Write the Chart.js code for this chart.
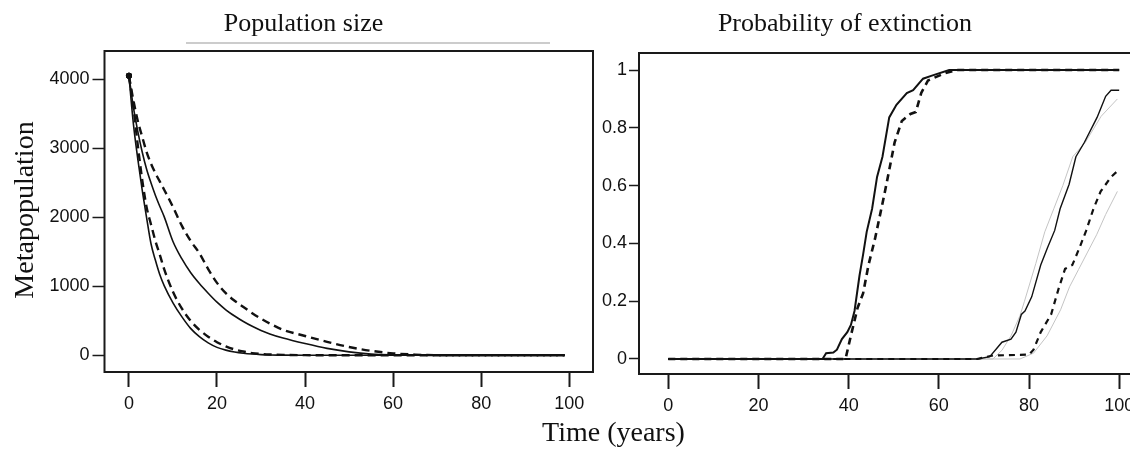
<!DOCTYPE html>
<html><head><meta charset="utf-8">
<script src="https://cdn.jsdelivr.net/npm/chart.js@4.4.1/dist/chart.umd.min.js"></script>
<style>
html,body{margin:0;padding:0;background:#fff;}
#wrap{position:relative;width:1130px;height:449px;overflow:hidden;background:#fff;}
canvas{position:absolute;left:0;top:0;}
</style></head><body>
<div id="wrap"><canvas id="c1" width="1130" height="449"></canvas><canvas id="c2" width="1130" height="449"></canvas></div>
<script>
// ---------- Left panel: population size ----------
const leftTime   = [0,1,2,3,4,5,6,7,8,10,12,14,16,18,20,22,24,26,28,30,32,35,40,45,50,55,60,65,70,80,90,99];
const fastSolid  = [4050,3360,2850,2400,2000,1620,1380,1170,1010,760,560,390,270,180,115,75,48,30,18,10,5,2,0,0,0,0,0,0,0,0,0,0];
const fastDashed = [4050,3600,3050,2550,2150,1900,1660,1460,1250,920,680,500,370,270,190,130,85,55,32,20,12,6,2,0,0,0,0,0,0,0,0,0];
const slowSolid  = [4050,3600,3250,2950,2700,2500,2320,2160,2010,1650,1400,1200,1040,900,770,660,570,490,420,360,310,250,170,100,50,18,6,2,0,0,0,0];
const slowDashed = [4050,3700,3400,3170,2950,2780,2640,2520,2400,2150,1880,1660,1480,1250,1050,900,790,700,610,530,460,370,280,195,120,65,28,10,2,0,0,0];
const leftXTicks = [0,20,40,60,80,100];
const leftYTicks = [0,1000,2000,3000,4000];

// ---------- Right panel: probability of extinction ----------
const earlySolidT  = [0,34.2,35.0,36.6,37.4,38.5,39.7,40.5,41.3,42.4,43.2,44.0,45.2,46.3,47.5,49.0,50.6,52.9,54.3,56.5,58.3,62.3,100];
const earlySolidP  = [0,0,0.02,0.022,0.032,0.069,0.093,0.118,0.166,0.288,0.361,0.44,0.52,0.63,0.70,0.836,0.88,0.92,0.93,0.97,0.98,1.0,1.0];
const earlyDashedT = [0,39.3,40.5,42.0,43.2,44.4,45.9,47.9,49.0,50.2,51.8,53.7,54.9,56.1,57.6,61.5,64.2,100];
const earlyDashedP = [0,0,0.081,0.178,0.227,0.325,0.42,0.568,0.654,0.75,0.824,0.848,0.855,0.921,0.964,0.99,1.0,1.0];
const lateSolidT   = [0,68.6,71.3,74.0,76.0,77.1,78.3,79.1,80.6,82.6,84.1,85.7,86.9,88.9,90.4,92.3,95.1,97.0,98.2,100];
const lateSolidP   = [0,0,0.008,0.058,0.069,0.093,0.154,0.166,0.215,0.325,0.385,0.445,0.52,0.605,0.70,0.75,0.836,0.909,0.93,0.93];
const lateDashedT  = [0,68.5,72,80,81.0,82.6,84.9,86.5,88.0,89.6,91.2,92.7,94.3,95.9,98.2,99.6];
const lateDashedP  = [0,0,0.012,0.015,0.032,0.093,0.154,0.24,0.312,0.325,0.385,0.445,0.52,0.58,0.63,0.65];
const gray1T = [0,72,74,76,78,79,81.5,83.5,85.5,87.5,89.7,92.5,96,99.6];
const gray1P = [0,0,0.03,0.08,0.15,0.2,0.33,0.44,0.52,0.6,0.7,0.75,0.84,0.9];
const gray2T = [0,78,81,84,87,89,91,93,95,97,99.6];
const gray2P = [0,0,0.02,0.08,0.17,0.25,0.31,0.37,0.43,0.5,0.58];
const rightXTicks = [0,20,40,60,80,100];
const rightYTicks = [0,0.2,0.4,0.6,0.8,1];
const rightYLabels = ['0','0.2','0.4','0.6','0.8','1'];

const pts = (xs, ys) => xs.map((x, i) => ({x, y: ys[i]}));

const textPlugin = {
  id: 'texts',
  afterDraw(chart, args, opts) {
    const ctx = chart.ctx;
    const a = chart.chartArea;
    ctx.save();
    ctx.strokeStyle = '#1a1a1a';
    ctx.lineWidth = 2;
    ctx.beginPath();
    const sides = opts.sides || 'tlbr';
    if (sides.includes('t')) { ctx.moveTo(a.left - 1, a.top); ctx.lineTo(a.right + 1, a.top); }
    if (sides.includes('r')) { ctx.moveTo(a.right, a.top); ctx.lineTo(a.right, a.bottom); }
    if (sides.includes('b')) { ctx.moveTo(a.left - 1, a.bottom); ctx.lineTo(a.right + 1, a.bottom); }
    if (sides.includes('l')) { ctx.moveTo(a.left, a.top); ctx.lineTo(a.left, a.bottom); }
    ctx.stroke();
    ctx.restore();
    (opts.lines || []).forEach(l => {
      ctx.save(); ctx.strokeStyle = l.color; ctx.lineWidth = 1;
      ctx.beginPath(); ctx.moveTo(l.x1, l.y); ctx.lineTo(l.x2, l.y); ctx.stroke(); ctx.restore();
    });
    (opts.items || []).forEach(it => {
      ctx.save();
      ctx.font = it.font; ctx.fillStyle = '#111';
      ctx.textAlign = 'center'; ctx.textBaseline = 'alphabetic';
      ctx.translate(it.x, it.y);
      if (it.rot) ctx.rotate(it.rot);
      ctx.fillText(it.text, 0, 0);
      ctx.restore();
    });
  }
};

function scales(o) {
  return {
    x: {
      type: 'linear', min: o.xmin, max: o.xmax,
      afterBuildTicks: s => { s.ticks = o.xTicks.map(v => ({value: v})); },
      afterFit: s => { s.height = o.xh; s.paddingLeft = 0; s.paddingRight = 0; },
      grid: { drawOnChartArea: false, drawTicks: true, tickLength: 15, tickWidth: 2, tickColor: '#1a1a1a' },
      border: { display: false },
      ticks: { color: '#111', font: { family: 'Liberation Sans', size: 18 }, padding: 6, maxRotation: 0, autoSkip: false,
               callback: (v, i) => String(o.xTicks[i]) }
    },
    y: {
      type: 'linear', min: o.ymin, max: o.ymax,
      afterBuildTicks: s => { s.ticks = o.yTicks.map(v => ({value: v})); },
      afterFit: s => { s.width = o.yw; s.paddingTop = 0; s.paddingBottom = 0; },
      grid: { drawOnChartArea: false, drawTicks: true, tickLength: o.ytl, tickWidth: 1.5, tickColor: '#1a1a1a' },
      border: { display: false },
      ticks: { color: '#111', font: { family: 'Liberation Sans', size: 18 }, padding: o.ypad, autoSkip: false,
               callback: (v, i) => o.yLabels[i] }
    }
  };
}

const common = { responsive: false, animation: false, devicePixelRatio: 1, events: [] };
const startDot = c => (c.dataIndex === 0 ? 3 : 0);

new Chart(document.getElementById('c1'), {
  type: 'line',
  data: {
    datasets: [
      { data: pts(leftTime, fastSolid),  borderColor: '#111', backgroundColor: '#111', borderWidth: 1.6, pointRadius: startDot, pointBorderWidth: 0, cubicInterpolationMode: 'monotone' },
      { data: pts(leftTime, fastDashed), borderColor: '#111', backgroundColor: '#111', borderWidth: 2.4, borderDash: [8,5], pointRadius: startDot, pointBorderWidth: 0, cubicInterpolationMode: 'monotone' },
      { data: pts(leftTime, slowSolid),  borderColor: '#111', backgroundColor: '#111', borderWidth: 1.6, pointRadius: startDot, pointBorderWidth: 0, cubicInterpolationMode: 'monotone' },
      { data: pts(leftTime, slowDashed), borderColor: '#111', backgroundColor: '#111', borderWidth: 2.4, borderDash: [8,5], pointRadius: startDot, pointBorderWidth: 0, cubicInterpolationMode: 'monotone' }
    ]
  },
  options: Object.assign({}, common, {
    layout: { padding: { left: 0, right: 1130 - 593, top: 51, bottom: 0 } },
    scales: scales({ xmin: -5.55, xmax: 105.4, ymin: -242, ymax: 4410, xTicks: leftXTicks, yTicks: leftYTicks,
                     yLabels: leftYTicks.map(String), xh: 77, yw: 104.5, ytl: 12, ypad: 3 }),
    plugins: {
      legend: { display: false }, tooltip: { enabled: false }, title: { display: false },
      texts: {
        sides: 'tlbr',
        lines: [{ x1: 186, x2: 550, y: 43, color: '#999' }],
        items: [
          { text: 'Population size', x: 303.5, y: 31, font: '26px "Liberation Serif"' },
          { text: 'Metapopulation', x: 33, y: 210, rot: -Math.PI / 2, font: '28px "Liberation Serif"' },
          { text: 'Time (years)', x: 613.5, y: 441, font: '28px "Liberation Serif"' }
        ]
      }
    }
  }),
  plugins: [textPlugin]
});

new Chart(document.getElementById('c2'), {
  type: 'line',
  data: {
    datasets: [
      { data: pts(earlySolidT, earlySolidP),   borderColor: '#111', borderWidth: 2, pointRadius: 0, tension: 0 },
      { data: pts(earlyDashedT, earlyDashedP), borderColor: '#111', borderWidth: 2.6, borderDash: [7,5], pointRadius: 0, tension: 0 },
      { data: pts(lateSolidT, lateSolidP),     borderColor: '#111', borderWidth: 1.4, pointRadius: 0, tension: 0 },
      { data: pts(lateDashedT, lateDashedP),   borderColor: '#111', borderWidth: 2.2, borderDash: [6,5], pointRadius: 0, tension: 0 },
      { data: pts(gray1T, gray1P), borderColor: '#c4c4c4', borderWidth: 1, pointRadius: 0, tension: 0 },
      { data: pts(gray2T, gray2P), borderColor: '#c4c4c4', borderWidth: 1, pointRadius: 0, tension: 0 }
    ]
  },
  options: Object.assign({}, common, {
    layout: { padding: { left: 639 - 60, right: 0, top: 53, bottom: 0 } },
    scales: scales({ xmin: -6.5, xmax: 102.4, ymin: -0.052, ymax: 1.059, xTicks: rightXTicks, yTicks: rightYTicks,
                     yLabels: rightYLabels, xh: 75, yw: 60, ytl: 10, ypad: 2 }),
    plugins: {
      legend: { display: false }, tooltip: { enabled: false }, title: { display: false },
      texts: {
        sides: 'tlb',
        items: [
          { text: 'Probability of extinction', x: 845, y: 31, font: '26px "Liberation Serif"' }
        ]
      }
    }
  }),
  plugins: [textPlugin]
});
</script>
</body></html>
